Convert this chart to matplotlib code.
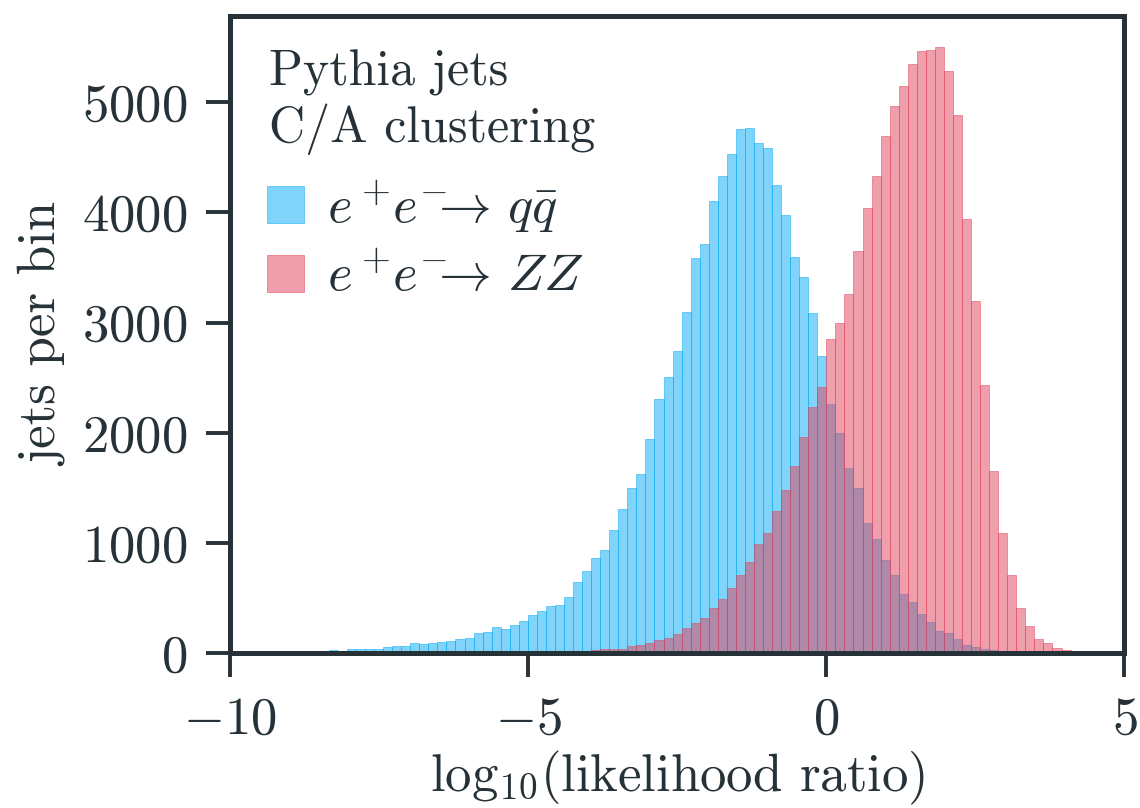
import matplotlib
matplotlib.use('Agg')
import matplotlib.pyplot as plt
import numpy as np

# histogram of log10(likelihood ratio) for the two samples, counts per bin
bin_width = 0.1517

# q qbar sample, first bin starts at -55 bin widths
qq_first_bin = -55
qq_counts = [32, 0, 41, 41, 41, 41, 59, 68, 68, 95,
             86, 95, 104, 113, 132, 141, 186, 195, 240, 222,
             259, 295, 349, 386, 431, 440, 513, 649, 749, 867,
             939, 1121, 1311, 1502, 1629, 1946, 2309, 2511, 2747, 3098,
             3590, 3717, 4105, 4332, 4533, 4760, 4770, 4633, 4588, 4251,
             3979, 3597, 3415, 3091, 2699, 2265, 2002, 1683, 1502, 1183,
             1039, 850, 713, 539, 469, 358, 288, 206, 187, 132,
             77, 59, 41, 32, 15, 8]

# ZZ sample, first bin starts at -26 bin widths
zz_first_bin = -26
zz_counts = [32, 41, 41, 41, 68, 77, 95, 122, 141, 178,
             232, 278, 323, 414, 495, 595, 712, 829, 995, 1094,
             1292, 1484, 1700, 1964, 2236, 2417, 2855, 2998, 3261, 3654,
             4043, 4332, 4695, 4969, 5151, 5350, 5469, 5476, 5503, 5288,
             4887, 3943, 3199, 2437, 1656, 1093, 712, 413, 250, 132,
             95, 50, 32]

labels = [r'$e^+\!e^{-}\!\!\!\to\, q\bar{q}$', r'$e^+\!e^{-}\!\!\!\to\, ZZ$']
colors = ['#03A9F4', '#E14159']

dark = '#263238'
plt.rcParams['font.family'] = 'serif'
plt.rcParams['font.serif'] = ['cmr10']
plt.rcParams['mathtext.fontset'] = 'cm'
plt.rcParams['axes.formatter.use_mathtext'] = True
plt.rcParams['axes.unicode_minus'] = True
plt.rcParams['text.color'] = dark
plt.rcParams['axes.labelcolor'] = dark
plt.rcParams['xtick.color'] = dark
plt.rcParams['ytick.color'] = dark
plt.rcParams['axes.edgecolor'] = dark

fig = plt.figure(figsize=(5.7, 4.04), dpi=200)
ax = fig.add_axes([0.2018, 0.1915, 0.7846, 0.7881])

for first, counts, lab, col in [(qq_first_bin, qq_counts, labels[0], colors[0]),
                                (zz_first_bin, zz_counts, labels[1], colors[1])]:
    edges = bin_width * np.arange(first, first + len(counts) + 1)
    centers = 0.5 * (edges[:-1] + edges[1:])
    ax.hist(centers, bins=edges, weights=counts, color=col, alpha=0.5,
            edgecolor=col, linewidth=0.35, label=lab)

ax.set_xlim(-10, 5)
ax.set_xticks([-10, -5, 0, 5])
ax.set_yticks([0, 1000, 2000, 3000, 4000, 5000])

for s in ax.spines.values():
    s.set_linewidth(1.8)
ax.tick_params(direction='out', length=8.5, width=1.4, labelsize=19, pad=7)

ax.set_xlabel(r'$\mathrm{log}_{10}$(likelihood ratio)', fontsize=19, labelpad=2)
ax.set_ylabel('jets per bin', fontsize=19, labelpad=5)

ax.text(0.044, 0.948, 'Pythia jets\nC/A clustering', transform=ax.transAxes,
        fontsize=18, va='top', ha='left', linespacing=1.2)

ax.legend(loc='upper left', bbox_to_anchor=(0.041, 0.745), frameon=False,
          fontsize=19, borderpad=0, borderaxespad=0, handlelength=0.7,
          handleheight=0.7, handletextpad=0.45, labelspacing=0.33)

fig.savefig('out.png', dpi=200)
